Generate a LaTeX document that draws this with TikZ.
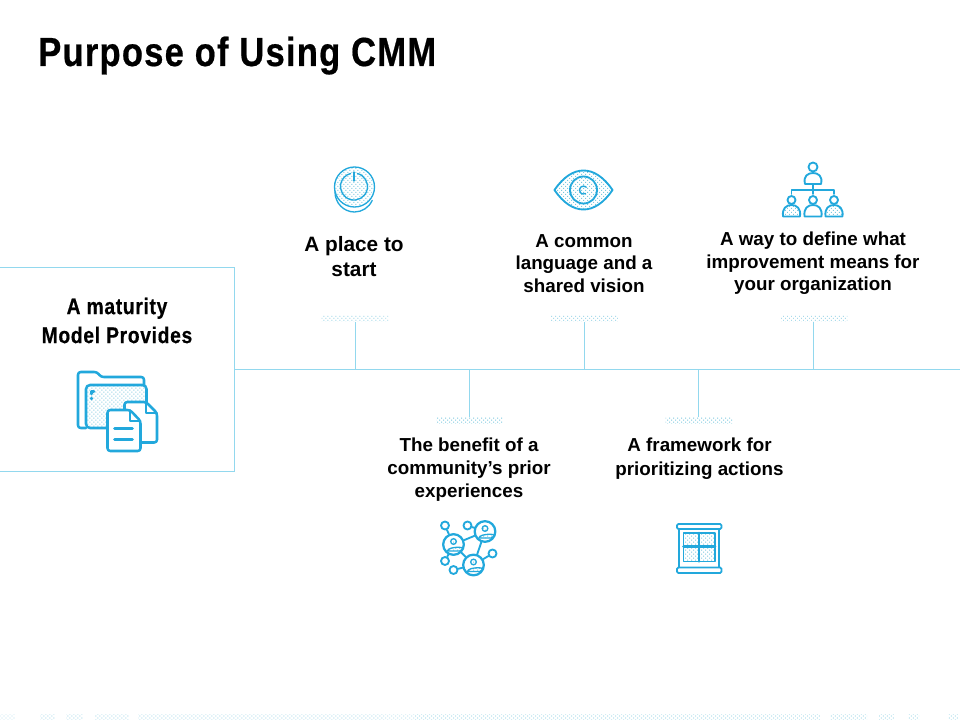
\documentclass[tikz,border=0pt]{standalone}
\usepackage{fontspec}
\setmainfont{Liberation Sans}
\newfontfamily\narrowfont[FakeStretch=0.85, LetterSpace=3, BoldFeatures={FakeBold=0.5}]{Liberation Sans}
\usetikzlibrary{patterns.meta}
\definecolor{iconblue}{HTML}{22A8DC}
\definecolor{lineblue}{HTML}{92D8EE}
\definecolor{dotblue}{HTML}{7CC8DE}
\tikzset{
  main/.style = {draw=lineblue, line width=.75pt, minimum width=177.75pt, minimum height=153pt, inner sep=0pt},
  pad/.style = {minimum width=50pt, minimum height=5.2pt, inner sep=0pt, dots},
  dots/.style = {pattern={Dots[distance=2.12pt, radius=.52pt, angle=45]}, pattern color=dotblue},
  caption/.style = {align=center, font=\bfseries\fontsize{14.1}{17}\selectfont, inner sep=0pt},
  wire/.style = {draw=lineblue, line width=.75pt},
  icon/.style = {draw=iconblue, line width=1.4pt, line join=round, line cap=round},
  thin icon/.style = {draw=iconblue, line width=1pt, line cap=round},
  thick icon/.style = {icon, line width=1.9pt},
  dot/.style = {icon, circle, fill=white, inner sep=0pt, minimum size=6pt},
  hub/.style = {icon, line width=1.7pt, circle, fill=white, inner sep=0pt, minimum size=15.5pt}
}
\begin{document}
\begin{tikzpicture}[x=.75pt, y=-.75pt, node distance=172.1pt]
\useasboundingbox (0,0) rectangle (960,720);
\node[anchor=base west, inner sep=0pt, font=\narrowfont\bfseries\fontsize{30.5}{36}\selectfont] (title) at (38,66) {Purpose of Using CMM};

% box and spine
\node[main] (box) at (116,369.5) {};
\node[align=center, inner sep=0pt, font=\narrowfont\bfseries\fontsize{17}{21.7}\selectfont] (boxtext) at (117,320.5) {A maturity\\Model Provides};
\coordinate (end) at (960,369.5);
\draw[wire] (box.east) -- (end);

% pads
\node[pad] (1) at (355,318.5) {};
\node[pad] (2)[right of = 1] {};
\node[pad] (3)[right of = 2] {};
\node[pad] (4) at (469.5,420.5) {};
\node[pad] (5)[right of = 4] {};
\draw[wire] (1.south) -- (1.south |- end);
\draw[wire] (2.south) -- (2.south |- end);
\draw[wire] (3.south) -- (3.south |- end);
\draw[wire] (4.north) -- (4.north |- end);
\draw[wire] (5.north) -- (5.north |- end);

% labels
\node[caption, font=\bfseries\fontsize{15.6}{18.8}\selectfont] (t1) at (354,257) {A place to\\start};
\node[caption] (t2) at (584,263.5) {A common\\language and a\\shared vision};
\node[caption] (t3) at (813,263.5) {A way to define what\\improvement means for\\your organization};
\node[caption] (t4) at (469,469.5) {The benefit of a\\community’s prior\\experiences};
\node[caption, font=\bfseries\fontsize{14.1}{18}\selectfont] (t5) at (699.5,459) {A framework for\\prioritizing actions};

% power icon
\fill[dots] (354.5,187) circle (19);
\draw[thin icon] (354.5,187) circle (20);
\draw[thin icon] (335,192) arc (180:25:19.5 and 20);
\draw[thin icon] (357.5,173.5) arc (285:615:13.5);
\draw[thin icon] (354,172) -- (354,181);

% eye icon
\draw[icon, dots] (554.5,190) .. controls (572,164) and (595,164) .. (612.5,190) .. controls (595,216) and (572,216) .. (554.5,190) -- cycle;
\draw[icon, fill=white] (583.5,190) circle (13.5);
\fill[dots] (583.5,190) circle (13);
\draw[thin icon] (586.3,187.2) arc (315:60:4);

% org chart icon
\foreach \x/\f in {791.5/dots,813/,834/dots} {
  \draw[icon] (\x,200) circle (4);
  \draw[icon, \f] (\x-8.5,216.5) .. controls (\x-9.5,208) and (\x-5,205) .. (\x,205) .. controls (\x+5,205) and (\x+9.5,208) .. (\x+8.5,216.5) -- cycle;
}
\draw[icon] (813,167) circle (4.5);
\draw[icon] (805,184) .. controls (803,176) and (808,173) .. (813,173) .. controls (818,173) and (823,176) .. (821,184) -- cycle;
\draw[icon] (791.5,194) -- (791.5,190) -- (834,190) -- (834,194) (813,184) -- (813,194);

% folder icon
\draw[thick icon, rounded corners=2pt] (86,428) -- (78,428) -- (78,372) -- (97,372) -- (101,377) -- (144,377) -- (144,385);
\draw[thick icon, rounded corners=3pt, dots] (86,428) -- (86,385) -- (146.5,385) -- (146.5,428) -- cycle;
\draw[thick icon] (91.5,394) -- (91.5,391.5) -- (94,391.5) (91.5,398) -- (91.5,399);
\draw[thick icon, fill=white, rounded corners=2pt] (124.5,442.5) -- (124.5,402) -- (146,402) -- (157,413) -- (157,442.5) -- cycle;
\draw[icon] (146,402) -- (146,413) -- (157,413);
\draw[thick icon, fill=white, rounded corners=2pt] (107.5,451) -- (107.5,410) -- (130,410) -- (140.5,421) -- (140.5,451) -- cycle;
\draw[icon] (130,410) -- (130,421) -- (140.5,421);
\draw[thick icon] (114.5,428.5) -- (132.5,428.5) (114.5,439.5) -- (132.5,439.5);

% network icon
\node[hub] (a) at (453.5,544.5) {};
\node[hub] (b) at (485,531.5) {};
\node[hub] (c) at (473.5,565) {};
\node[dot] (d) at (445,525.5) {};
\node[dot] (e) at (467.5,525.5) {};
\node[dot] (f) at (492.5,553.5) {};
\node[dot] (g) at (445,561) {};
\node[dot] (h) at (453.5,570) {};
\foreach \p/\q in {a/b,a/c,b/c,a/d,b/e,c/f,a/g,c/h}
  \draw[icon] (\p) -- (\q);
\foreach \n in {a,b,c} {
  \draw[thin icon, dots] (\n) ++(0,-3) circle (2.8);
  \draw[thin icon, dots] (\n) ++(-6,6.5) .. controls +(0,-5) and +(12,-5) .. +(12,0) -- cycle;
}

% window icon
\draw[thick icon] (679,529) -- (679,567) (719,529) -- (719,567);
\draw[icon, fill=white, rounded corners=1pt] (677,524) rectangle (721.5,529);
\draw[icon, fill=white, rounded corners=1pt] (677,567.5) rectangle (721.5,573);
\draw[icon, dots] (683.5,533) rectangle (715,561.5);
\draw[thick icon] (699.2,533) -- (699.2,561.5) (683.5,546.7) -- (715,546.7);

% bottom strip
\foreach \a/\b in {0/15,40/55,66/83,95/129,138/820,830/867,879/894,908/919,948/958}
  \fill[dots] (\a,714) rectangle (\b,720);
\end{tikzpicture}
\end{document}
